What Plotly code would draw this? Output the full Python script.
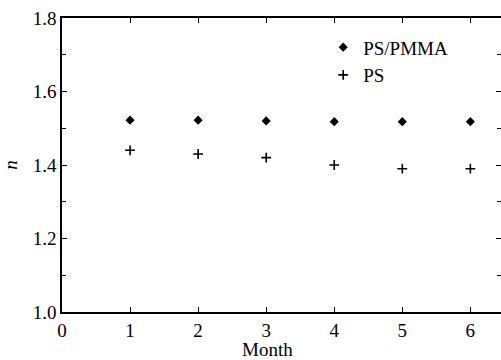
import plotly.graph_objects as go

months = [1, 2, 3, 4, 5, 6]
ps_pmma = [1.522, 1.522, 1.520, 1.518, 1.518, 1.518]
ps = [1.44, 1.43, 1.42, 1.40, 1.39, 1.39]

font = "Liberation Serif"

fig = go.Figure()
fig.add_trace(go.Scatter(x=months, y=ps_pmma, mode="markers", name="PS/PMMA",
                         marker=dict(symbol="diamond", size=7, color="black")))
fig.add_trace(go.Scatter(x=months, y=ps, mode="markers", name="PS",
                         marker=dict(symbol="cross-thin", size=7, color="black",
                                     line=dict(color="black", width=1.6))))

fig.update_layout(
    width=501, height=360,
    margin=dict(l=62, r=0, t=18, b=48, autoexpand=False),
    paper_bgcolor="white", plot_bgcolor="white",
    font=dict(family=font, size=19, color="black"),
    showlegend=True,
    legend=dict(x=0.595, y=0.965, xanchor="left", yanchor="top",
                bgcolor="rgba(0,0,0,0)", font=dict(size=19),
                itemwidth=30, tracegroupgap=0),
    xaxis=dict(range=[0, 6.45], tickvals=[0, 1, 2, 3, 4, 5, 6],
               ticks="inside", ticklen=5, tickwidth=1.2, tickcolor="black",
               showline=True, linecolor="black", linewidth=1.5, mirror="allticks",
               showgrid=False, zeroline=False, automargin=False),
    yaxis=dict(range=[1.0, 1.8], tickvals=[1.0, 1.2, 1.4, 1.6, 1.8],
               ticktext=["1.0", "1.2", "1.4", "1.6", "1.8"],
               ticks="inside", ticklen=5, tickwidth=1.2, tickcolor="black",
               minor=dict(tickvals=[1.1, 1.3, 1.5, 1.7], ticks="inside", ticklen=4,
                          tickcolor="black", showgrid=False),
               showline=True, linecolor="black", linewidth=1.5, mirror="allticks",
               showgrid=False, zeroline=False, automargin=False,
               title=dict(text="<i>n</i>", font=dict(size=19), standoff=10)),
    annotations=[dict(text="Month", xref="paper", yref="paper", x=0.469, y=-0.128,
                      xanchor="center", yanchor="middle", showarrow=False,
                      font=dict(size=19))],
)

fig.write_html("out.html", config={"displayModeBar": False},
               post_script="document.body.style.margin='0';document.body.style.overflow='hidden';")
